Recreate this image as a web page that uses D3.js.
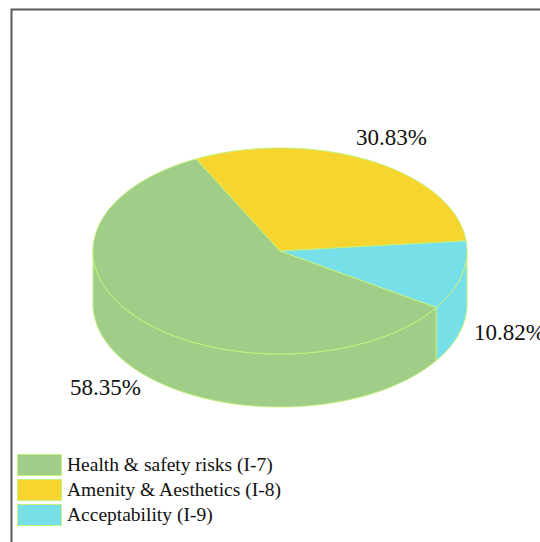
<!DOCTYPE html>
<html>
<head>
<meta charset="utf-8">
<script src="https://cdn.jsdelivr.net/npm/d3@7"></script>
<style>
  html, body { margin: 0; padding: 0; background: #fff; }
  svg { display: block; }
</style>
</head>
<body>
<script>
// Share of indicators (percent)
const categories = ["Health & safety risks (I-7)", "Amenity & Aesthetics (I-8)", "Acceptability (I-9)"];
const values = [58.35, 30.83, 10.82];
const valueLabels = ["58.35%", "30.83%", "10.82%"];
const colors = ["#a0ce88", "#f7d52f", "#77dfe8"];

const W = 540, H = 542;
const edge = "#c4f27c";
const cx = 280, cy = 251, rx = 187, ry = 103, depth = 53;

const svg = d3.select("body").append("svg").attr("width", W).attr("height", H);

// outer frame
svg.append("rect").attr("x", 11.5).attr("y", 9.5).attr("width", 600).attr("height", 600)
  .attr("fill", "#fff").attr("stroke", "#5a5a5a").attr("stroke-width", 2);

const startDeg = 123.3;
const pie = d3.pie().sort(null)
  .startAngle(startDeg * Math.PI / 180)
  .endAngle(startDeg * Math.PI / 180 + 2 * Math.PI);
const arcs = pie(values);

// point on the ellipse for a pie angle (0 = 12 o'clock, clockwise)
const pt = (a, dy = 0) => [cx + rx * Math.sin(a), cy - ry * Math.cos(a) + dy];
function arcPts(a0, a1, dy = 0) {
  const n = Math.max(2, Math.ceil(Math.abs(a1 - a0) / (Math.PI / 180)));
  return d3.range(n + 1).map(i => pt(a0 + (a1 - a0) * i / n, dy));
}

const g = svg.append("g");

// side walls: only the front half (pi/2 .. 3pi/2) is visible
arcs.forEach((d, i) => {
  [-2 * Math.PI, 0, 2 * Math.PI].forEach(off => {
    const a0 = Math.max(d.startAngle + off, Math.PI / 2);
    const a1 = Math.min(d.endAngle + off, 3 * Math.PI / 2);
    if (a1 <= a0) return;
    const top = arcPts(a0, a1);
    const bot = arcPts(a1, a0, depth);
    g.append("path")
      .attr("d", d3.line()(top.concat(bot)) + "Z")
      .attr("fill", colors[i]).attr("stroke", edge).attr("stroke-width", 1)
      .attr("stroke-linejoin", "round");
  });
});

// top faces
arcs.forEach((d, i) => {
  const p = [[cx, cy]].concat(arcPts(d.startAngle, d.endAngle));
  g.append("path")
    .attr("d", d3.line()(p) + "Z")
    .attr("fill", colors[i]).attr("stroke", edge).attr("stroke-width", 1)
    .attr("stroke-linejoin", "round");
});

// value labels
const labelPos = [[70, 395], [356, 145], [474, 340]];
values.forEach((v, i) => {
  svg.append("text")
    .attr("x", labelPos[i][0]).attr("y", labelPos[i][1])
    .attr("font-family", "Liberation Serif, Times New Roman, serif")
    .attr("font-size", 23).attr("fill", "#111")
    .text(valueLabels[i]);
});

// legend
const legend = svg.append("g");
categories.forEach((c, i) => {
  const y = 454 + i * 25;
  legend.append("rect").attr("x", 17.5).attr("y", y + 0.5).attr("width", 44).attr("height", 21)
    .attr("fill", colors[i]).attr("stroke", edge).attr("stroke-width", 1);
  legend.append("text").attr("x", 67).attr("y", y + 17)
    .attr("font-family", "Liberation Serif, Times New Roman, serif")
    .attr("font-size", 19.5).attr("fill", "#111")
    .text(c);
});
</script>
</body>
</html>
